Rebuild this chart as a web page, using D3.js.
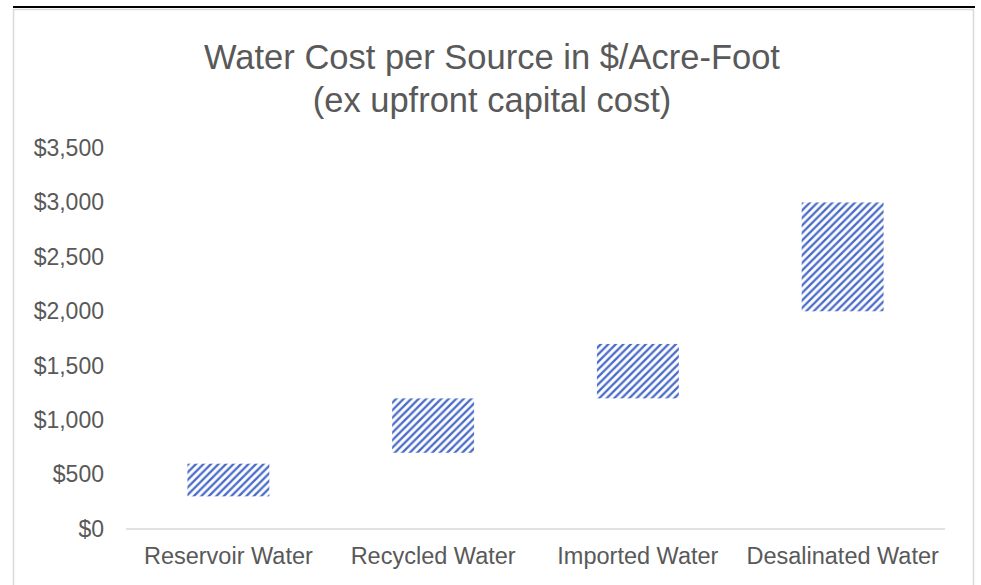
<!DOCTYPE html>
<html>
<head>
<meta charset="utf-8">
<script src="https://cdn.jsdelivr.net/npm/d3@7"></script>
<style>
  html, body { margin: 0; padding: 0; background: #fff; }
  svg { display: block; font-family: "Liberation Sans", Arial, sans-serif; }
</style>
</head>
<body>
<svg id="chart" width="981" height="585"></svg>
<script>
// Cost ranges per water source, $ per acre-foot
const categories = ["Reservoir Water", "Recycled Water", "Imported Water", "Desalinated Water"];
const lowCost = [300, 700, 1200, 2000];
const highCost = [600, 1200, 1700, 3000];
const yTicks = [0, 500, 1000, 1500, 2000, 2500, 3000, 3500];
const titleLines = ["Water Cost per Source in $/Acre-Foot", "(ex upfront capital cost)"];

const svg = d3.select("#chart");
const plot = { left: 126, right: 945, top: 148, bottom: 529 };

// frame
svg.append("rect")
  .attr("x", 13.5).attr("y", 9.5)
  .attr("width", 960).attr("height", 600)
  .attr("fill", "#fff").attr("stroke", "#d9d9d9").attr("stroke-width", 1.5);
svg.append("line")
  .attr("x1", 13).attr("x2", 975).attr("y1", 7).attr("y2", 7)
  .attr("stroke", "#000").attr("stroke-width", 2.2);

// hatch fill (wide upward diagonal)
const defs = svg.append("defs");
const pat = defs.append("pattern")
  .attr("id", "hatch")
  .attr("patternUnits", "userSpaceOnUse")
  .attr("width", 7.5).attr("height", 7.5);
pat.append("rect").attr("width", 7.5).attr("height", 7.5).attr("fill", "#fff");
pat.append("path")
  .attr("d", "M-2,2 L2,-2 M0,7.5 L7.5,0 M5.5,9.5 L9.5,5.5")
  .attr("stroke", "#4a6cc8").attr("stroke-width", 2.3);

const x = d3.scaleBand()
  .domain(categories)
  .range([plot.left, plot.right])
  .paddingInner(0.6).paddingOuter(0.3);

const y = d3.scaleLinear()
  .domain([0, 3500])
  .range([plot.bottom, plot.top]);

// title
svg.append("g").selectAll("text")
  .data(titleLines)
  .join("text")
  .attr("x", 492)
  .attr("y", (d, i) => 69 + i * 43)
  .attr("text-anchor", "middle")
  .attr("font-size", 34.5)
  .attr("fill", "#595959")
  .text(d => d);

// y axis labels
const fmt = v => "$" + d3.format(",")(v);
const yAxis = d3.axisLeft(y).tickValues(yTicks).tickFormat(fmt).tickSize(0).tickPadding(22);
const gy = svg.append("g").attr("transform", `translate(${plot.left},0)`).call(yAxis);
gy.select(".domain").remove();
gy.selectAll("text").attr("font-size", 23).attr("fill", "#595959")
  .attr("font-family", "Liberation Sans, Arial, sans-serif");

// x axis
const xAxis = d3.axisBottom(x).tickSize(0).tickPadding(18);
const gx = svg.append("g").attr("transform", `translate(0,${plot.bottom})`).call(xAxis);
gx.select(".domain").attr("stroke", "#d9d9d9").attr("stroke-width", 1.5)
  .attr("d", `M${plot.left},0H${plot.right}`);
gx.selectAll("text").attr("font-size", 23.5).attr("fill", "#595959")
  .attr("font-family", "Liberation Sans, Arial, sans-serif");

// floating range bars
svg.append("g").selectAll("rect")
  .data(categories.map((c, i) => ({ c, lo: lowCost[i], hi: highCost[i] })))
  .join("rect")
  .attr("x", d => x(d.c))
  .attr("width", x.bandwidth())
  .attr("y", d => y(d.hi))
  .attr("height", d => y(d.lo) - y(d.hi))
  .attr("fill", "url(#hatch)");
</script>
</body>
</html>
